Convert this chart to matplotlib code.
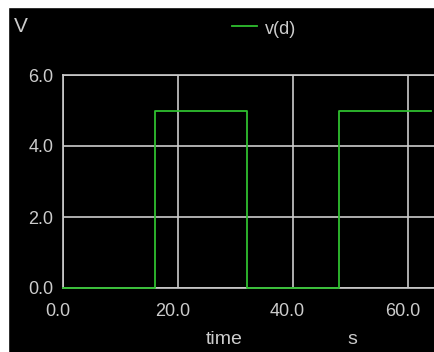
import numpy as np
import matplotlib.pyplot as plt
from matplotlib.transforms import ScaledTranslation
from matplotlib.patches import Rectangle

# v(d) square wave: breakpoints (s) and level (V)
t = [0.0, 16.0, 16.0, 32.0, 32.0, 48.0, 48.0, 64.0]
v = [0.0, 0.0, 5.0, 5.0, 0.0, 0.0, 5.0, 5.0]

xticks = [0, 20, 40, 60]
yticks = [0, 2, 4, 6]

fg = '#cccccc'
green = '#2fbf2f'
plt.rcParams['font.family'] = ['Liberation Sans', 'DejaVu Sans']

fig = plt.figure(figsize=(4.35, 3.52), dpi=100, facecolor='black')
ax = fig.add_axes([63 / 435, 1 - 288 / 352, 1 - 63 / 435, 213 / 352])
ax.set_facecolor('black')

ax.plot(t, v, color=green, lw=1.3, zorder=5, clip_on=False)

ax.set_xlim(0, 64.7)
ax.set_ylim(0, 6)
ax.set_xticks(xticks)
ax.set_yticks(yticks)
ax.set_xticklabels([f'{x:.1f}' for x in xticks])
ax.set_yticklabels([f'{y:.1f}' for y in yticks])
ax.tick_params(colors=fg, length=0, labelsize=13)
ax.tick_params(axis='y', pad=7)
ax.tick_params(axis='x', pad=11)
ax.grid(True, color=fg, lw=1.2)

# shift x labels a little to the left of their grid lines
off = ScaledTranslation(-4 / 72, 0, fig.dpi_scale_trans)
for lbl in ax.get_xticklabels():
    lbl.set_transform(lbl.get_transform() + off)

for side in ['left', 'top', 'bottom']:
    ax.spines[side].set_color(fg)
    ax.spines[side].set_linewidth(1.2)
ax.spines['right'].set_visible(False)

# axis names and legend drawn in figure pixels
fig.text(21 / 435, 1 - 27 / 352, 'V', color=fg, fontsize=15, ha='center', va='center')
fig.lines.append(plt.Line2D([232 / 435, 257 / 435], [1 - 25.5 / 352, 1 - 25.5 / 352],
                            color=green, lw=1.3, transform=fig.transFigure))
fig.text(281 / 435, 1 - 30 / 352, 'v(d)', color=fg, fontsize=13, ha='center', va='center')
fig.text(224 / 435, 1 - 340 / 352, 'time', color=fg, fontsize=14, ha='center', va='center')
fig.text(352 / 435, 1 - 340 / 352, 's', color=fg, fontsize=14, ha='center', va='center')

# light strip along the left and top edges
fig.patches.append(Rectangle((0, 0), 8 / 435, 1, color='white', transform=fig.transFigure))
fig.patches.append(Rectangle((0, 1 - 7 / 352), 1, 7 / 352, color='white', transform=fig.transFigure))

fig.savefig('out.png', dpi=100, facecolor='black')
